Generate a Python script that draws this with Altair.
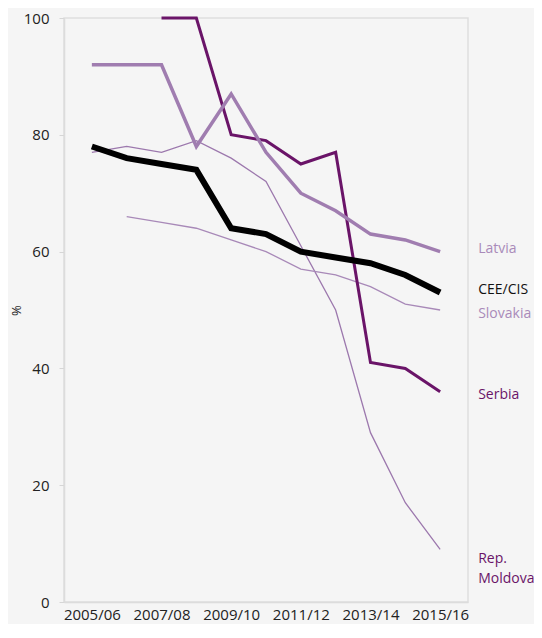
import altair as alt
import pandas as pd

years = ["2005/06", "2006/07", "2007/08", "2008/09", "2009/10", "2010/11",
         "2011/12", "2012/13", "2013/14", "2014/15", "2015/16"]
cee_cis = [78, 76, 75, 74, 64, 63, 60, 59, 58, 56, 53]
latvia = [92, 92, 92, 78, 87, 77, 70, 67, 63, 62, 60]
serbia = [None, None, 100, 100, 80, 79, 75, 77, 41, 40, 36]
slovakia = [None, 66, 65, 64, 62, 60, 57, 56, 54, 51, 50]
moldova = [77, 78, 77, 79, 76, 72, 61, 50, 29, 17, 9]
tick_years = ["2005/06", "2007/08", "2009/10", "2011/12", "2013/14", "2015/16"]

series = {
    "Rep. Moldova": moldova,
    "Slovakia": slovakia,
    "Serbia": serbia,
    "Latvia": latvia,
    "CEE/CIS": cee_cis,
}
styles = {
    "Rep. Moldova": ("#9c78ad", 1.3),
    "Slovakia": ("#a889b8", 1.3),
    "Serbia": ("#6a1468", 3),
    "Latvia": ("#a07db0", 3.5),
    "CEE/CIS": ("#000000", 6),
}
label_colors = {
    "Latvia": "#a98ab9",
    "CEE/CIS": "#111111",
    "Slovakia": "#a98ab9",
    "Serbia": "#6a1468",
    "Rep. Moldova": "#6a1468",
}
label_dy = {"Latvia": -3, "CEE/CIS": -2, "Slovakia": 4, "Serbia": 3, "Rep. Moldova": 10}

FONT = "Open Sans"
xscale = alt.Scale(type="point", padding=0.8, domain=years)
yscale = alt.Scale(domain=[0, 100])

layers = []
for name, vals in series.items():
    df = pd.DataFrame({"year": years, "value": vals}).dropna()
    color, w = styles[name]
    layers.append(
        alt.Chart(df).mark_line(color=color, strokeWidth=w, strokeJoin="miter", strokeCap="butt").encode(
            x=alt.X("year:O", scale=xscale, sort=years,
                    axis=alt.Axis(values=tick_years, labelAngle=0, ticks=False, title=None,
                                  labelFontSize=15, labelFont=FONT, labelColor="#222222",
                                  labelPadding=5, domainColor="#dcdcdc", domainWidth=1.5)),
            y=alt.Y("value:Q", scale=yscale,
                    axis=alt.Axis(values=[0, 20, 40, 60, 80, 100], grid=False, title="%",
                                  titleFont=FONT, titleFontSize=13, titleFontWeight="normal",
                                  titleColor="#222222", titleX=-41,
                                  labelFontSize=15, labelFont=FONT, labelColor="#222222",
                                  labelPadding=10, tickSize=5, tickColor="#d6d6d6",
                                  domainColor="#dcdcdc", domainWidth=1.5)),
        )
    )

for name in ["Latvia", "CEE/CIS", "Slovakia", "Serbia", "Rep. Moldova"]:
    vals = series[name]
    lab = name.replace("Rep. ", "Rep.\n")
    df = pd.DataFrame({"year": [years[-1]], "value": [vals[-1]], "label": [lab]})
    layers.append(
        alt.Chart(df).mark_text(align="left", baseline="middle", dx=38, dy=label_dy[name],
                                font=FONT, fontSize=14, color=label_colors[name],
                                lineBreak="\n", lineHeight=20).encode(
            x=alt.X("year:O", scale=xscale, sort=years),
            y=alt.Y("value:Q", scale=yscale),
            text="label:N",
        )
    )

chart = alt.layer(*layers).properties(
    width=404, height=584,
    background="#f5f5f5",
    autosize=alt.AutoSizeParams(type="none"),
    padding={"left": 56, "top": 10, "right": 66, "bottom": 22},
).configure_view(stroke="#dedede", strokeWidth=1.5)

chart.save("out.html", embed_options={"renderer": "svg", "actions": False})
